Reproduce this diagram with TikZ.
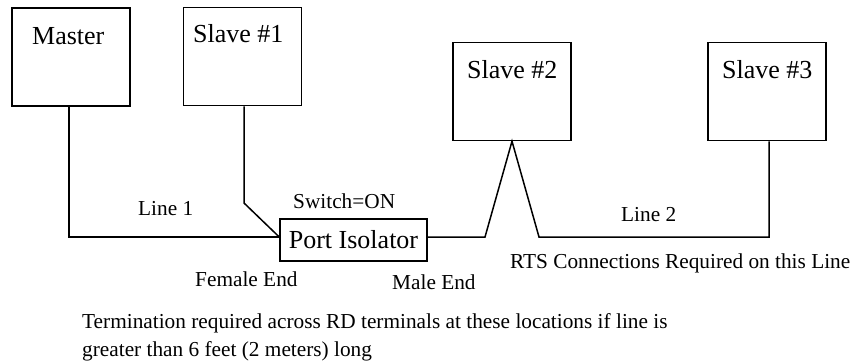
\documentclass[tikz,border=0pt]{standalone}
\usepackage{fontspec}
\setmainfont{Liberation Serif}
\begin{document}
\begin{tikzpicture}[x=1pt,y=-1pt,
  unit/.style={draw,line width=1.5pt,minimum width=118pt,minimum height=98pt,inner sep=0pt},
  bigtxt/.style={font=\fontsize{26}{30}\selectfont,inner sep=0pt,anchor=base west},
  smalltxt/.style={font=\fontsize{21.3}{25}\selectfont,inner sep=0pt,anchor=base west},
  wire/.style={line width=1.5pt,line join=miter}]
\useasboundingbox (0,0) rectangle (858,362);

% devices
\node[unit] (master) at (71,57) {};
\node[unit] (s1) at (242.5,56.5) {};
\node[unit] (s2) at (512,91.5) {};
\node[unit] (s3) at (767,91.5) {};
\node[draw,line width=1.5pt,minimum width=147pt,minimum height=42pt,inner sep=0pt,
      font=\fontsize{26}{30}\selectfont] (iso) at (353.5,240) {Port Isolator};

% device names
\node[bigtxt] (tmaster) at (32,44) {Master};
\node[bigtxt] (ts1) at (193,42) {Slave \#1};
\node[bigtxt] (ts2) at (467,78) {Slave \#2};
\node[bigtxt] (ts3) at (722,78) {Slave \#3};

% bend points of the wiring
\coordinate (m1) at (69,237);
\coordinate (k1) at (244,203);
\coordinate (r1) at (485,237);
\coordinate (r2) at (539,237);
\coordinate (r3) at (769,237);

% line 1
\draw[wire] (master.south -| m1) -- (m1) -- ([yshift=3pt]iso.west);
\draw[wire] (s1.south -| k1) -- (k1) -- ([yshift=3pt]iso.west);
% line 2
\draw[wire] ([yshift=3pt]iso.east) -- (r1) -- (s2.south) -- (r2) -- (r3) -- (s3.south -| r3);

% labels
\node[smalltxt] (l1) at (138,215) {Line 1};
\node[smalltxt] (sw) at (293,208) {Switch=ON};
\node[smalltxt] (fe) at (195,286) {Female End};
\node[smalltxt] (me) at (392,289) {Male End};
\node[smalltxt] (l2) at (621,221) {Line 2};
\node[smalltxt] (rts) at (510,268) {RTS Connections Required on this Line};
\node[smalltxt] (term1) at (82,328) {Termination required across RD terminals at these locations if line is};
\node[smalltxt] (term2) at (82,356) {greater than 6 feet (2 meters) long};
\end{tikzpicture}
\end{document}
